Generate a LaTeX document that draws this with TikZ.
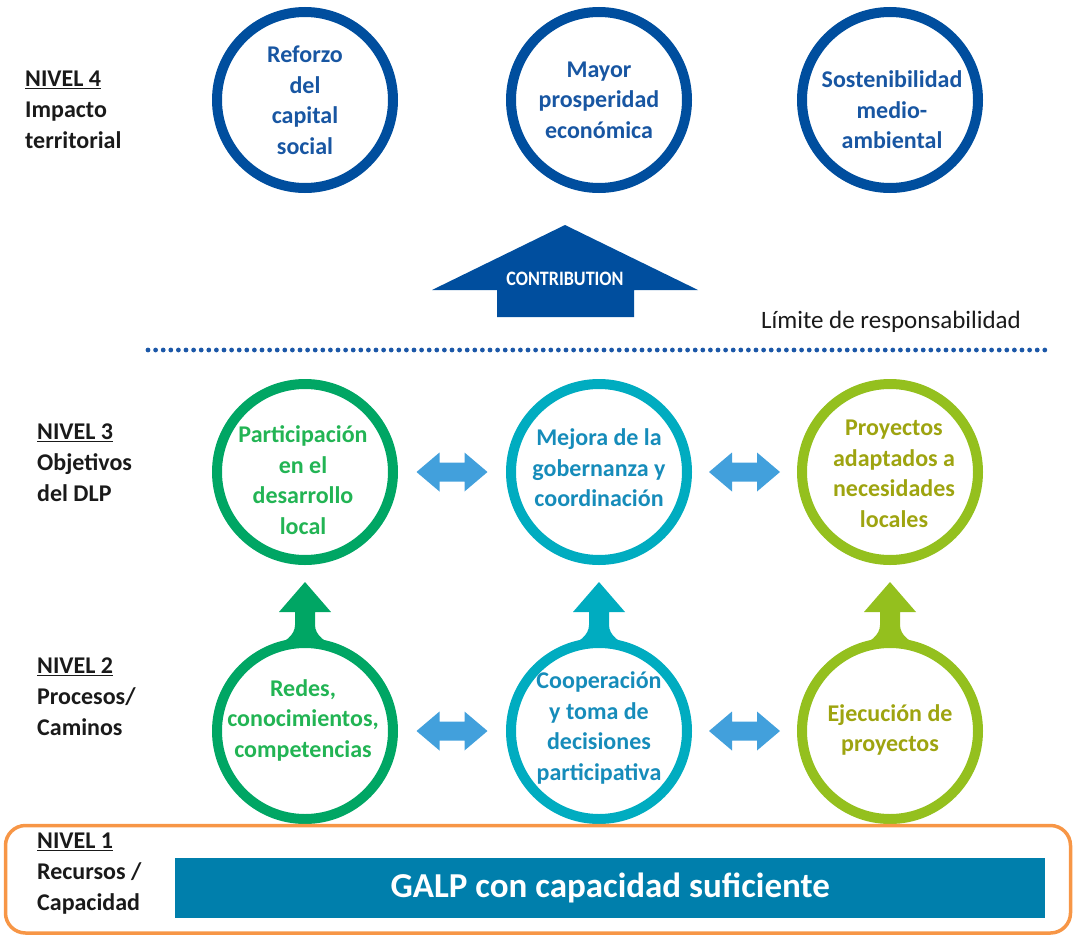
\documentclass[tikz,border=0pt]{standalone}
\usepackage{fontspec}
\setmainfont{Carlito}
\usepackage{graphicx}
\usetikzlibrary{calc}
\definecolor{navy}{RGB}{0,78,158}
\definecolor{navytext}{RGB}{24,86,162}
\definecolor{gring}{RGB}{0,166,100}
\definecolor{gtext}{RGB}{34,180,84}
\definecolor{tring}{RGB}{0,172,192}
\definecolor{ttext}{RGB}{22,140,186}
\definecolor{lring}{RGB}{148,192,30}
\definecolor{ltext}{RGB}{158,164,16}
\definecolor{dblue}{RGB}{66,160,220}
\definecolor{orangeline}{RGB}{247,150,70}
\definecolor{barblue}{RGB}{0,127,172}
\definecolor{dotblue}{RGB}{28,88,168}
\definecolor{labelgray}{RGB}{26,26,26}
\newcommand\upArrowFlare[2]{%
  \begin{scope}[shift={(#1)}]
    \fill[#2] (-34,-84) .. controls (-20,-88) and (-10,-96) .. (-10,-106)
      -- (-10,-119) -- (-26,-119) -- (0,-149) -- (26,-119) -- (10,-119) -- (10,-106)
      .. controls (10,-96) and (20,-88) .. (34,-84) -- cycle;
  \end{scope}}
\newcommand\dblArrow[1]{%
  \begin{scope}[shift={(#1)}]
    \fill[dblue] (-35.5,0) -- (-12.5,-19.5) -- (-12.5,-9.5) -- (12.5,-9.5) -- (12.5,-19.5)
      -- (35.5,0) -- (12.5,19.5) -- (12.5,9.5) -- (-12.5,9.5) -- (-12.5,19.5) -- cycle;
  \end{scope}}
\begin{document}
\begin{tikzpicture}[x=1pt,y=-1pt,
  ring/.style={circle, draw=#1, line width=10pt, minimum size=176pt, inner sep=0pt},
  ctext/.style={font=\bfseries\fontsize{24}{30.5}\selectfont, align=center, inner sep=0pt, text=#1},
  lvl/.style={font=\bfseries\fontsize{24}{31}\selectfont, align=left, anchor=west, inner sep=0pt, text=labelgray},
  dots/.style={line width=4.8pt, dash pattern=on 0pt off 7.6pt, line cap=round, draw=dotblue}]
\useasboundingbox (0,0) rectangle (1074,937);

% Level labels
\node[lvl] (l4) at (25,110) {\underline{NIVEL 4}\\Impacto\\territorial};
\node[lvl] (l3) at (37,463) {\underline{NIVEL 3}\\Objetivos\\del DLP};
\node[lvl] (l2) at (37,697) {\underline{NIVEL 2}\\Procesos/\\Caminos};
\node[lvl] (l1) at (37,874) {\underline{NIVEL 1}\\Recursos /\\Capacidad};

% Level 4 circles
\node[ring=navy] (o4a) at (305,100) {};
\node[ring=navy] (o4b) at (599,100) {};
\node[ring=navy] (o4c) at (890,100) {};
\node[ctext=navytext] (t4a) at (305,100) {Reforzo\\del\\capital\\social};
\node[ctext=navytext] (t4b) at (599,100) {Mayor\\prosperidad\\económica};
\node[ctext=navytext] (t4c) at (892,110) {Sostenibilidad\\medio-\\ambiental};

% Contribution arrow
\fill[navy] (565,225) -- (698,290) -- (634,290) -- (634,317) -- (497,317) -- (497,290) -- (432,290) -- cycle;
\node[text=white, font=\bfseries\fontsize{20.5}{24}\selectfont, inner sep=0pt] (contrib) at (565,279) {\scalebox{0.88}[1]{CONTRIBUTION}};

\node[text=labelgray, font=\fontsize{25}{30}\selectfont, inner sep=0pt] (limite) at (891,322) {Límite de responsabilidad};

% Dotted boundary
\coordinate (dl) at (148,350);
\coordinate (dr) at (1045,350);
\draw[dots] (dl) -- (dr);

% Level 3 circles
\node[ring=gring] (o3a) at (305,472) {};
\node[ring=tring] (o3b) at (599,472) {};
\node[ring=lring] (o3c) at (890,472) {};
\node[ctext=gtext] (t3a) at (303,480) {Participación\\en el\\desarrollo\\local};
\node[ctext=ttext] (t3b) at (599,468) {Mejora de la\\gobernanza y\\coordinación};
\node[ctext=ltext] (t3c) at (894,474) {Proyectos\\adaptados a\\necesidades\\locales};

% Level 2 circles
\node[ring=gring] (o2a) at (305,731) {};
\node[ring=tring] (o2b) at (599,731) {};
\node[ring=lring] (o2c) at (890,731) {};
\node[ctext=gtext] (t2a) at (303,720) {Redes,\\conocimientos,\\competencias};
\node[ctext=ttext] (t2b) at (599,728) {Cooperación\\y toma de\\decisiones\\participativa};
\node[ctext=ltext] (t2c) at (890,730) {Ejecución de\\proyectos};

% Up arrows from level 2 to level 3
\upArrowFlare{o2a.center}{gring}
\upArrowFlare{o2b.center}{tring}
\upArrowFlare{o2c.center}{lring}

% Double arrows
\coordinate (m3a) at ($(o3a.center)!0.5!(o3b.center)$);
\coordinate (m3b) at ($(o3b.center)!0.5!(o3c.center)$);
\coordinate (m2a) at ($(o2a.center)!0.5!(o2b.center)$);
\coordinate (m2b) at ($(o2b.center)!0.5!(o2c.center)$);
\dblArrow{m3a}
\dblArrow{m3b}
\dblArrow{m2a}
\dblArrow{m2b}

% Level 1 frame and bar
\draw[orangeline, line width=3.5pt, rounded corners=20pt] (5.5,825.5) rectangle (1070.5,933);
\node[fill=barblue, minimum width=870pt, minimum height=60pt, inner sep=0pt, anchor=north west] (bar) at (175,858) {};
\node[text=white, font=\bfseries\fontsize{35}{40}\selectfont, inner sep=0pt] (galp) at (bar.center) {GALP con capacidad suficiente};
\end{tikzpicture}
\end{document}
